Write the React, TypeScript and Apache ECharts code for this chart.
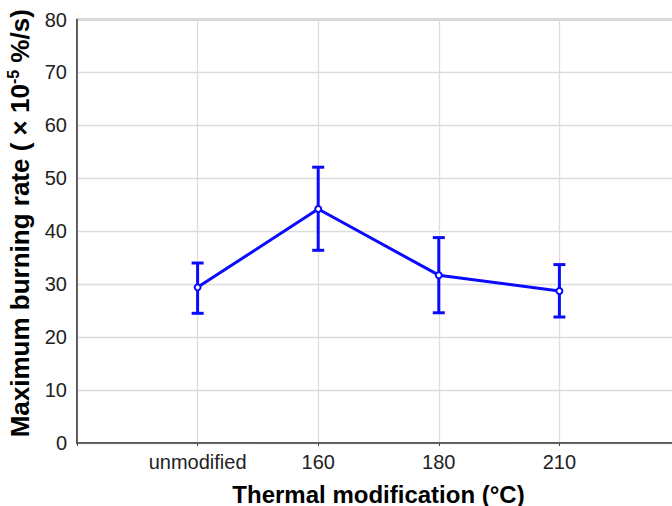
import React, { useEffect, useRef } from "react";
import * as echarts from "echarts";

const categories = ["unmodified", "160", "180", "210"];
const meanValues = [29.4, 44.2, 31.7, 28.7];
const lowerValues = [24.5, 36.4, 24.6, 23.8];
const upperValues = [34.0, 52.1, 38.8, 33.7];
const yTicks = [0, 10, 20, 30, 40, 50, 60, 70, 80];

const BLUE = "#0a0aff";
const FONT = "Liberation Sans, Arial, sans-serif";

export default function App() {
  const ref = useRef<HTMLDivElement>(null);
  useEffect(() => {
    if (!ref.current) return;
    const chart = echarts.init(ref.current, undefined, { renderer: "svg" });
    const lineData = meanValues.map((v, i) => [i + 1, v]);
    const errData = categories.map((_, i) => [i + 1, lowerValues[i], upperValues[i]]);
    chart.setOption({
      animation: false,
      backgroundColor: "#ffffff",
      textStyle: { fontFamily: FONT },
      grid: {
        left: 77,
        right: 10,
        top: 19.5,
        bottom: 63,
        outerBoundsMode: "none",
        containLabel: false,
        show: true,
        borderColor: "#555555",
        borderWidth: 1.5,
        backgroundColor: "transparent",
      },
      xAxis: {
        type: "value",
        min: 0,
        max: 5,
        interval: 1,
        axisLine: { show: true, onZero: false, lineStyle: { color: "#444444", width: 1.5 } },
        axisTick: { show: true, length: 3, lineStyle: { color: "#444444", width: 1 } },
        splitLine: { show: true, lineStyle: { color: "#dcdcdc", width: 1.3 } },
        axisLabel: {
          color: "#222222",
          fontSize: 20,
          fontFamily: FONT,
          margin: 9,
          formatter: (v: number) => (v >= 1 && v <= categories.length ? categories[v - 1] : ""),
        },
        name: "Thermal modification (°C)",
        nameLocation: "middle",
        nameGap: 39,
        nameTextStyle: { fontSize: 24, fontWeight: "bold", color: "#000000", fontFamily: FONT },
      },
      yAxis: {
        type: "value",
        min: yTicks[0],
        max: yTicks[yTicks.length - 1],
        interval: 10,
        axisLine: { show: true, lineStyle: { color: "#444444", width: 1.5 } },
        axisTick: { show: false },
        splitLine: { show: true, lineStyle: { color: "#dcdcdc", width: 1.3 } },
        axisLabel: { color: "#222222", fontSize: 20, fontFamily: FONT, margin: 10 },
        name: "{b|Maximum burning rate ( × 10}{s|-5}{b| %/s)}",
        nameLocation: "middle",
        nameGap: 41,
        nameRotate: 90,
        nameTextStyle: {
          padding: [0, 0, 0, 16],
          rich: {
            b: { fontSize: 26, fontWeight: "bold", color: "#000000", fontFamily: FONT, lineHeight: 28 },
            s: {
              fontSize: 16,
              fontWeight: "bold",
              color: "#000000",
              fontFamily: FONT,
              verticalAlign: "top",
              lineHeight: 16,
              padding: [0, 0, 12, 0],
            },
          },
        },
      },
      series: [
        {
          type: "custom",
          data: errData,
          z: 3,
          renderItem: (params: any, api: any) => {
            const x = api.value(0);
            const lo = api.coord([x, api.value(1)]);
            const hi = api.coord([x, api.value(2)]);
            const hw = 6;
            const style = { stroke: BLUE, lineWidth: 3 };
            return {
              type: "group",
              children: [
                { type: "line", shape: { x1: hi[0], y1: hi[1], x2: lo[0], y2: lo[1] }, style },
                { type: "line", shape: { x1: hi[0] - hw, y1: hi[1], x2: hi[0] + hw, y2: hi[1] }, style },
                { type: "line", shape: { x1: lo[0] - hw, y1: lo[1], x2: lo[0] + hw, y2: lo[1] }, style },
              ],
            };
          },
        },
        {
          type: "line",
          data: lineData,
          z: 4,
          symbol: "emptyCircle",
          symbolSize: 6,
          lineStyle: { color: BLUE, width: 3 },
          itemStyle: { color: BLUE, borderColor: BLUE, borderWidth: 1.5 },
        },
      ],
    });
    return () => chart.dispose();
  }, []);
  return (
    <div
      ref={ref}
      style={{ position: "fixed", left: 0, top: 0, width: 690, height: 506, background: "#fff" }}
    />
  );
}
